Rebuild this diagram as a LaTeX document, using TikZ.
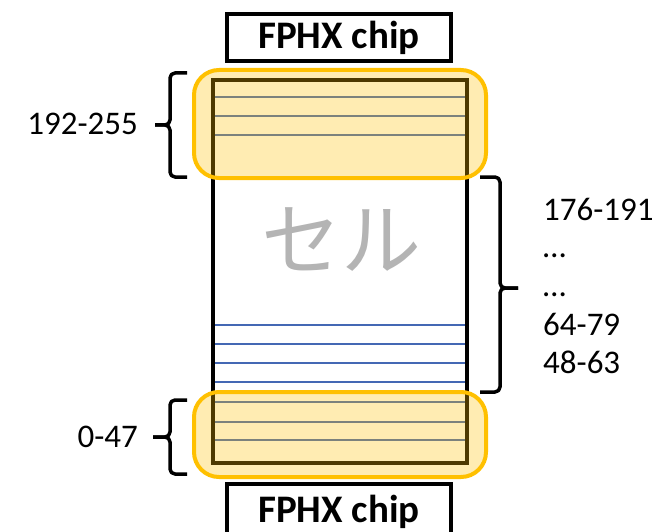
\documentclass[tikz,border=0pt]{standalone}
\usepackage{fontspec}
\setmainfont{Carlito}
\newfontfamily\cjk{Noto Sans CJK JP}
\definecolor{linblue}{RGB}{68,104,180}
\definecolor{grporange}{RGB}{255,192,0}
\definecolor{celgray}{RGB}{180,180,180}
\begin{document}
\begin{tikzpicture}[x=1pt,y=-1pt,
    chip/.style={draw,line width=4.5pt,minimum width=224pt,minimum height=47pt,inner sep=0pt,font=\fontsize{39}{44}\selectfont\bfseries},
    grp/.style={draw=grporange,line width=4pt,fill=grporange,fill opacity=0.3,draw opacity=1,rounded corners=25pt,minimum width=292pt,inner sep=0pt},
    brc/.style={line width=3.5pt,rounded corners=5pt,line join=round},
    lbl/.style={font=\fontsize{33}{38}\selectfont,inner sep=0pt}]
    \clip (0,0) rectangle (658,532);
    % strips
    \foreach \y in {97,116,135,325,344,363,382,402,422,440}
        \draw[linblue,line width=1.6pt] (213,\y)--(466,\y);
    \draw[line width=4.5pt] (213,80) rectangle (467,463);
    \node[text=celgray,font=\cjk\fontsize{80}{80}\selectfont,inner sep=0pt] (cell) at (341,240) {セル};
    % groups read out by the chips
    \node[grp,minimum height=108pt] (grptop) at (340,124) {};
    \node[grp,minimum height=85pt] (grpbot) at (340,434.5) {};
    \node[chip] (chiptop) at (339,37.5) {FPHX chip};
    \node[chip,minimum height=56pt] (chipbot) at (339,512) {FPHX chip};
    % braces
    \draw[brc] (187,73)--(170,73)--(170,125)--(155,125);
    \draw[brc] (155,125)--(170,125)--(170,177)--(187,177);
    \draw[brc] (187,400)--(170,400)--(170,437)--(153,437);
    \draw[brc] (153,437)--(170,437)--(170,474)--(187,474);
    \draw[brc] (480,177)--(500,177)--(500,288)--(518,288);
    \draw[brc] (518,288)--(500,288)--(500,392)--(480,392);
    % channel numbers
    \node[lbl,anchor=base east] (chtop) at (138,135) {192-255};
    \node[lbl,anchor=base east] (chbot) at (138,447) {0-47};
    \foreach \t/\y [count=\i] in {176-191/220,…/257,…/296,64-79/335,48-63/373}
        \node[lbl,anchor=base west] (chmid\i) at (543,\y) {\t};
\end{tikzpicture}
\end{document}
